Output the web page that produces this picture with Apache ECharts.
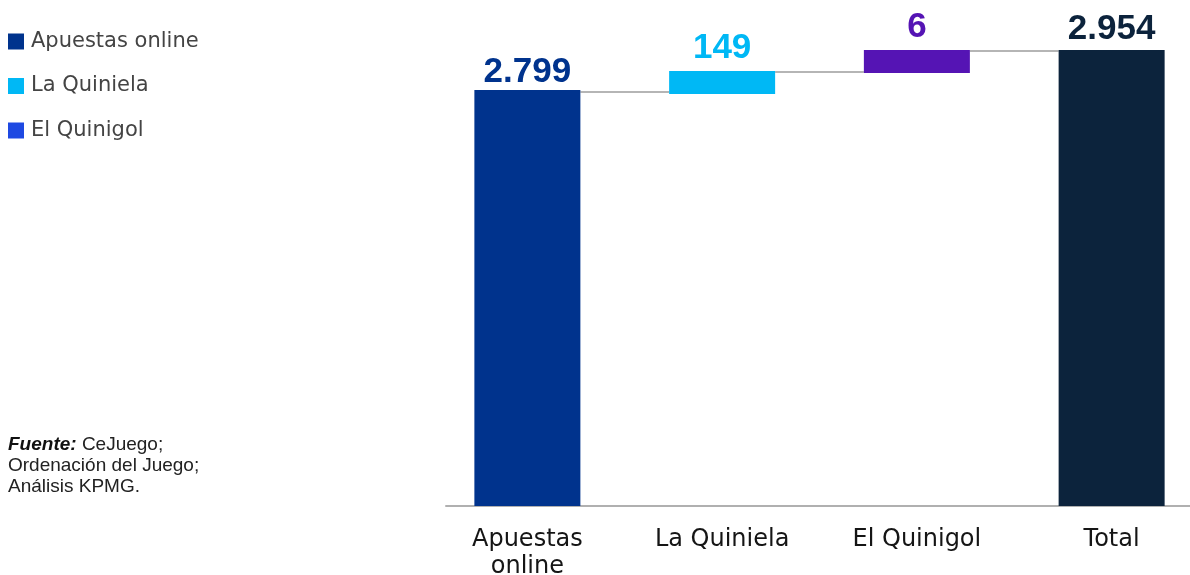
<!DOCTYPE html>
<html>
<head>
<meta charset="utf-8">
<style>
  html, body { margin: 0; padding: 0; background: #ffffff; }
  #chart { width: 1190px; height: 575px; }
</style>
<script src="https://cdn.jsdelivr.net/npm/echarts@6/dist/echarts.min.js"></script>
</head>
<body>
<div id="chart"></div>
<script>
// ---- data ----
const categories = ['Apuestas\nonline', 'La Quiniela', 'El Quinigol', 'Total'];
const seriesNames = ['Apuestas online', 'La Quiniela', 'El Quinigol', 'Total'];
const labelValues = [2799, 149, 6, 2954];          // printed values
const barBottoms = [0, 2670, 2806, 0];             // drawn bar bottoms (stylised waterfall)
const barTops = [2695, 2819, 2954, 2954];          // drawn bar tops
const connectorLevels = [2683, 2812, 2948];        // connector lines between bars
const barColors = ['#00338D', '#00B8F5', '#5514B4', '#0C233C'];
const legendColors = ['#00338D', '#00B8F5', '#1E49E2'];
const labelDistances = [0, 5, 5, 3];

const BAR_W = 106;
const fmt = v => String(v).replace(/\B(?=(\d{3})+(?!\d))/g, '.');

const chart = echarts.init(document.getElementById('chart'), null, { renderer: 'canvas' });

const series = [{
  name: 'base',
  type: 'bar',
  stack: 'w',
  barWidth: BAR_W,
  silent: true,
  itemStyle: { color: 'transparent' },
  data: barBottoms
}];

seriesNames.forEach((name, i) => {
  series.push({
    name: name,
    type: 'bar',
    stack: 'w',
    barWidth: BAR_W,
    itemStyle: { color: barColors[i] },
    label: {
      show: true,
      position: 'top',
      distance: labelDistances[i],
      color: barColors[i],
      fontSize: 35,
      fontWeight: 'bold',
      fontFamily: "'Liberation Sans', Arial, sans-serif",
      formatter: p => fmt(labelValues[p.dataIndex])
    },
    data: categories.map((c, j) => j === i ? barTops[j] - barBottoms[j] : '-')
  });
});

series.push({
  name: 'connectors',
  type: 'custom',
  silent: true,
  z: 1,
  renderItem: function (params, api) {
    const i = api.value(0);
    const v = api.value(1);
    const p1 = api.coord([i, v]);
    const p2 = api.coord([i + 1, v]);
    return {
      type: 'line',
      shape: { x1: p1[0] + BAR_W / 2, y1: p1[1], x2: p2[0] - BAR_W / 2, y2: p2[1] },
      style: { stroke: '#b5b5b5', lineWidth: 2 }
    };
  },
  data: connectorLevels.map((v, i) => [i, v])
});

chart.setOption({
  animation: false,
  backgroundColor: '#ffffff',
  title: {
    left: 8,
    top: 434,
    padding: 0,
    text: '{b|Fuente:} CeJuego;\nOrdenación del Juego;\nAnálisis KPMG.',
    textStyle: {
      fontSize: 19,
      lineHeight: 21,
      fontWeight: 'normal',
      color: '#222222',
      fontFamily: "'Liberation Sans', Arial, sans-serif",
      rich: {
        b: { fontSize: 19, lineHeight: 21, fontWeight: 'bold', fontStyle: 'italic', color: '#111111',
             fontFamily: "'Liberation Sans', Arial, sans-serif" }
      }
    }
  },
  legend: {
    orient: 'vertical',
    left: 8,
    top: 31,
    padding: 0,
    itemWidth: 16,
    itemHeight: 16,
    itemGap: 23.5,
    icon: 'rect',
    selectedMode: false,
    textStyle: {
      fontSize: 21,
      color: '#444444',
      padding: [0, 0, 0, 2],
      fontFamily: "'DejaVu Sans', sans-serif"
    },
    data: seriesNames.slice(0, 3).map((n, i) => ({ name: n, itemStyle: { color: legendColors[i] } }))
  },
  grid: [
    { left: 430, width: 779, top: 43, bottom: 69, outerBoundsMode: 'none', containLabel: false },
    { left: 446, right: 0, top: 43, bottom: 69, outerBoundsMode: 'none', containLabel: false }
  ],
  xAxis: [{
    type: 'category',
    gridIndex: 0,
    data: categories,
    axisLine: { show: false },
    axisTick: { show: false },
    axisLabel: {
      margin: 20,
      fontSize: 24,
      lineHeight: 27,
      color: '#151515',
      fontFamily: "'DejaVu Sans', sans-serif"
    }
  }, {
    type: 'value',
    gridIndex: 1,
    min: 0,
    max: 1,
    axisLine: { show: true, lineStyle: { color: '#b0b0b0', width: 2 } },
    axisTick: { show: false },
    axisLabel: { show: false },
    splitLine: { show: false }
  }],
  yAxis: [{
    type: 'value',
    gridIndex: 0,
    min: 0,
    max: 3000,
    show: false,
    splitLine: { show: false }
  }, {
    type: 'value',
    gridIndex: 1,
    min: 0,
    max: 1,
    show: false,
    splitLine: { show: false }
  }],
  series: series
});
</script>
</body>
</html>
